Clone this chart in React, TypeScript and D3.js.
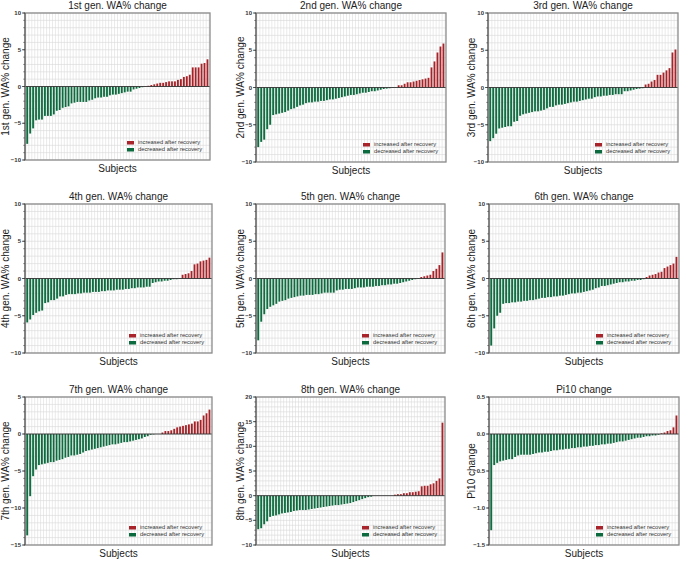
import React from 'react';
import * as d3 from 'd3';

const gen1 = [-7.8, -6.4, -5.7, -4.6, -4.5, -4.5, -4.0, -4.0, -4.0, -3.8, -3.3, -3.2, -2.9, -2.8, -2.7, -2.3, -2.2, -2.1, -2.1, -2.1, -2.1, -1.9, -1.8, -1.6, -1.5, -1.5, -1.4, -1.4, -1.2, -1.1, -1.1, -1.0, -0.9, -0.8, -0.7, -0.7, -0.4, -0.3, -0.2, -0.1, 0.05, 0.1, 0.2, 0.3, 0.4, 0.5, 0.5, 0.6, 0.7, 0.7, 0.7, 0.9, 1.0, 1.3, 1.4, 1.6, 2.6, 2.6, 2.6, 3.1, 3.2, 3.7];
const gen2 = [-8.0, -7.3, -7.0, -5.6, -5.0, -3.7, -3.6, -3.5, -3.4, -3.3, -3.1, -2.9, -2.8, -2.6, -2.4, -2.3, -2.1, -2.0, -2.0, -1.9, -1.9, -1.8, -1.8, -1.7, -1.6, -1.6, -1.5, -1.4, -1.3, -1.2, -1.1, -1.0, -1.0, -0.9, -0.8, -0.7, -0.7, -0.6, -0.5, -0.5, -0.4, -0.3, -0.2, -0.15, -0.1, -0.05, -0.02, 0.3, 0.3, 0.5, 0.7, 0.7, 0.8, 0.9, 1.0, 1.1, 1.2, 1.3, 2.7, 3.5, 4.7, 5.5, 5.9];
const gen3 = [-7.2, -6.8, -6.2, -5.5, -5.4, -5.3, -5.2, -5.2, -4.6, -4.5, -3.8, -3.6, -3.5, -3.4, -3.3, -3.2, -3.2, -3.1, -3.0, -2.8, -2.6, -2.6, -2.4, -2.3, -2.3, -2.2, -2.1, -2.0, -1.9, -1.9, -1.8, -1.7, -1.6, -1.5, -1.5, -1.3, -1.2, -1.2, -1.1, -1.1, -1.0, -1.0, -0.9, -0.9, -0.9, -0.5, -0.5, -0.4, -0.3, -0.2, -0.15, -0.1, 0.4, 0.5, 0.8, 1.0, 1.7, 1.7, 2.0, 2.3, 2.6, 4.7, 5.1];
const gen4 = [-5.9, -5.5, -4.9, -4.6, -4.4, -4.3, -3.3, -3.2, -2.9, -2.9, -2.7, -2.4, -2.4, -2.2, -2.1, -2.1, -2.1, -2.0, -2.0, -1.9, -1.9, -1.9, -1.8, -1.8, -1.8, -1.7, -1.7, -1.6, -1.6, -1.6, -1.5, -1.5, -1.5, -1.4, -1.4, -1.3, -1.3, -1.2, -1.2, -1.2, -1.1, -1.1, -0.6, -0.5, -0.4, -0.4, -0.3, -0.3, -0.2, -0.1, -0.1, -0.05, 0.5, 0.6, 0.7, 1.0, 1.9, 2.0, 2.3, 2.4, 2.5, 2.8];
const gen5 = [-8.3, -5.8, -4.8, -4.1, -3.8, -3.6, -3.4, -3.1, -3.0, -2.9, -2.7, -2.6, -2.5, -2.4, -2.3, -2.3, -2.2, -2.2, -2.2, -2.1, -2.1, -2.0, -1.9, -1.9, -1.9, -1.9, -1.6, -1.5, -1.5, -1.4, -1.4, -1.4, -1.3, -1.2, -1.2, -1.2, -1.1, -1.1, -1.1, -1.0, -1.0, -0.9, -0.9, -0.8, -0.8, -0.7, -0.7, -0.6, -0.5, -0.4, -0.3, -0.2, -0.1, -0.05, 0.2, 0.3, 0.4, 0.5, 1.0, 1.3, 1.8, 3.5];
const gen6 = [-9.0, -6.7, -5.0, -4.6, -3.4, -3.3, -3.3, -3.2, -3.2, -3.1, -3.1, -3.0, -3.0, -2.9, -2.9, -2.8, -2.7, -2.6, -2.6, -2.5, -2.5, -2.4, -2.4, -2.3, -2.3, -2.2, -2.1, -2.0, -2.0, -1.9, -1.9, -1.8, -1.7, -1.6, -1.5, -1.3, -1.2, -1.0, -1.0, -0.9, -0.8, -0.7, -0.6, -0.5, -0.5, -0.4, -0.4, -0.3, -0.3, -0.2, -0.2, -0.1, 0.2, 0.4, 0.5, 0.6, 0.8, 0.9, 1.4, 1.6, 1.8, 2.0, 2.9];
const gen7 = [-13.7, -8.4, -5.7, -4.8, -4.2, -4.1, -4.0, -3.9, -3.8, -3.8, -3.6, -3.5, -3.4, -3.2, -3.1, -2.9, -2.9, -2.8, -2.7, -2.5, -2.3, -2.2, -2.1, -2.0, -1.9, -1.8, -1.7, -1.6, -1.5, -1.4, -1.4, -1.3, -1.2, -1.1, -1.1, -1.0, -0.9, -0.8, -0.7, -0.6, -0.4, -0.3, -0.1, -0.05, 0, 0, 0.2, 0.4, 0.4, 0.5, 0.7, 0.9, 1.0, 1.1, 1.2, 1.3, 1.4, 1.7, 1.7, 1.9, 2.5, 2.8, 3.3];
const gen8 = [-6.8, -6.6, -5.8, -5.2, -4.3, -4.1, -4.0, -3.8, -3.6, -3.5, -3.4, -3.3, -3.1, -3.0, -2.9, -2.9, -2.9, -2.8, -2.7, -2.6, -2.5, -2.4, -2.3, -2.2, -2.1, -2.0, -1.9, -1.9, -1.8, -1.7, -1.6, -1.5, -1.3, -1.1, -0.9, -0.7, -0.5, -0.3, -0.2, 0, 0, 0, 0, 0, 0, 0, 0.2, 0.3, 0.3, 0.5, 0.5, 0.7, 0.7, 0.8, 0.9, 1.9, 2.0, 2.0, 2.3, 2.5, 3.0, 3.5, 14.8];
const pi10 = [-1.3, -0.42, -0.39, -0.37, -0.36, -0.35, -0.34, -0.34, -0.31, -0.29, -0.28, -0.28, -0.28, -0.28, -0.27, -0.26, -0.25, -0.25, -0.24, -0.24, -0.23, -0.22, -0.22, -0.21, -0.21, -0.20, -0.20, -0.19, -0.19, -0.18, -0.18, -0.17, -0.17, -0.16, -0.16, -0.15, -0.15, -0.14, -0.14, -0.13, -0.13, -0.12, -0.11, -0.10, -0.10, -0.09, -0.08, -0.07, -0.06, -0.05, -0.05, -0.04, -0.03, -0.03, -0.02, -0.02, -0.01, 0.01, 0.02, 0.04, 0.05, 0.09, 0.25];

const seriesList = [gen1, gen2, gen3, gen4, gen5, gen6, gen7, gen8, pi10];
const titles = ['1st gen. WA% change', '2nd gen. WA% change', '3rd gen. WA% change', '4th gen. WA% change', '5th gen. WA% change', '6th gen. WA% change', '7th gen. WA% change', '8th gen. WA% change', 'Pi10 change'];
const yLabels = ['1st gen. WA% change', '2nd gen. WA% change', '3rd gen. WA% change', '4th gen. WA% change', '5th gen. WA% change', '6th gen. WA% change', '7th gen. WA% change', '8th gen. WA% change', 'Pi10 change'];
const yDomains: [number, number][] = [[-10, 10], [-10, 10], [-10, 10], [-10, 10], [-10, 10], [-10, 10], [-15, 5], [-10, 20], [-1.5, 0.5]];
const majorSteps = [5, 5, 5, 5, 5, 5, 5, 5, 0.5];
const minorSteps = [1, 1, 1, 1, 1, 1, 1, 1, 0.1];
const legendLabels = ['increased after recovery', 'decreased after recovery'];
const xLabel = 'Subjects';

const boxes = [
  { l: 25, r: 210, t: 13, b: 160, lab: 20 },
  { l: 256, r: 446, t: 13, b: 162, lab: 16 },
  { l: 488, r: 678, t: 13, b: 162, lab: 17 },
  { l: 25, r: 212, t: 204, b: 353, lab: 20 },
  { l: 256, r: 445, t: 204, b: 353, lab: 16 },
  { l: 489, r: 679, t: 204, b: 353, lab: 18 },
  { l: 25, r: 212, t: 397, b: 545, lab: 20 },
  { l: 256, r: 445, t: 397, b: 545, lab: 16 },
  { l: 489, r: 679, t: 397, b: 545, lab: 18 },
];

const FONT = "'Liberation Sans', Arial, Helvetica, sans-serif";

function Panel({ idx }: { idx: number }) {
  const data = seriesList[idx];
  const bx = boxes[idx];
  const [d0, d1] = yDomains[idx];
  const x = d3.scaleBand<number>().domain(d3.range(data.length)).range([bx.l + 1, bx.r - 1]).paddingInner(0.28).paddingOuter(0.1);
  const y = d3.scaleLinear().domain([d0, d1]).range([bx.b, bx.t]);
  const minorN = Math.round((d1 - d0) / minorSteps[idx]);
  const minorVals = d3.range(minorN + 1).map(i => d0 + i * minorSteps[idx]);
  const majorN = Math.round((d1 - d0) / majorSteps[idx]);
  const majorVals = d3.range(majorN + 1).map(i => d0 + i * majorSteps[idx]);
  const fmt = idx === 8 ? d3.format('.1f') : d3.format('d');
  const step = x.step();
  const cx = (bx.l + bx.r) / 2;
  const cy = (bx.t + bx.b) / 2;
  return (
    <g>
      <rect x={bx.l} y={bx.t} width={bx.r - bx.l} height={bx.b - bx.t} fill="#fff" />
      {d3.range(data.length + 1).map(i => (
        <line key={'vg' + i} x1={bx.l + 1 + x.paddingOuter() * step + i * step - step * 0.14} x2={bx.l + 1 + x.paddingOuter() * step + i * step - step * 0.14} y1={bx.t} y2={bx.b} stroke="#dcdcdc" strokeWidth={0.6} />
      ))}
      {minorVals.map((v, i) => (
        <line key={'hg' + i} x1={bx.l} x2={bx.r} y1={y(v)} y2={y(v)} stroke="#d6d6d6" strokeWidth={0.6} />
      ))}
      {data.map((v, i) => {
        const y0 = y(0);
        const yv = y(v);
        return (
          <rect key={'b' + i} x={x(i)} width={x.bandwidth()} y={Math.min(y0, yv)} height={Math.abs(yv - y0)} fill={v >= 0 ? 'url(#gRed)' : 'url(#gGreen)'} />
        );
      })}
      <line x1={bx.l} x2={bx.r} y1={y(0)} y2={y(0)} stroke="#333" strokeWidth={0.9} />
      <rect x={bx.l} y={bx.t} width={bx.r - bx.l} height={bx.b - bx.t} fill="none" stroke="#8c8c8c" strokeWidth={1.3} />
      <line x1={bx.l} x2={bx.l} y1={bx.t} y2={bx.b} stroke="#555" strokeWidth={1} />
      {minorVals.map((v, i) => (
        <line key={'mt' + i} x1={bx.l - 1.8} x2={bx.l} y1={y(v)} y2={y(v)} stroke="#444" strokeWidth={0.6} />
      ))}
      {majorVals.map((v, i) => (
        <g key={'Mt' + i}>
          <line x1={bx.l - 3} x2={bx.l} y1={y(v)} y2={y(v)} stroke="#333" strokeWidth={0.8} />
          <text x={bx.l - 4} y={y(v)} dy="0.35em" textAnchor="end" fontSize={6} fontWeight="bold" fill="#333" fontFamily={FONT}>{fmt(v)}</text>
        </g>
      ))}
      <text x={cx} y={bx.t - 4} textAnchor="middle" fontSize={10} fill="#222" fontFamily={FONT}>{titles[idx]}</text>
      <text x={cx} y={bx.b + 12} textAnchor="middle" fontSize={10} fill="#222" fontFamily={FONT}>{xLabel}</text>
      <text transform={`translate(${bx.l - bx.lab + 4},${cy}) rotate(-90)`} textAnchor="middle" fontSize={10} fill="#222" fontFamily={FONT}>{yLabels[idx]}</text>
      <g transform={`translate(${bx.r - 83},${bx.b - 19})`}>
        <rect x={0} y={0} width={7} height={3.5} fill="#a8232a" />
        <text x={11} y={3.4} fontSize={5.8} fill="#333" fontFamily={FONT}>{legendLabels[0]}</text>
        <rect x={0} y={7} width={7} height={3.5} fill="#0c6b3e" />
        <text x={11} y={10.4} fontSize={5.8} fill="#333" fontFamily={FONT}>{legendLabels[1]}</text>
      </g>
    </g>
  );
}

export default function App() {
  return (
    <svg width={680} height={563} style={{ position: 'absolute', left: 0, top: 0, background: '#fff' }}>
      <defs>
        <linearGradient id="gGreen" x1="0" x2="1" y1="0" y2="0">
          <stop offset="0" stopColor="#0a633a" />
          <stop offset="0.6" stopColor="#0f6e42" />
          <stop offset="1" stopColor="#9cc8b0" />
        </linearGradient>
        <linearGradient id="gRed" x1="0" x2="1" y1="0" y2="0">
          <stop offset="0" stopColor="#9e1b22" />
          <stop offset="0.6" stopColor="#a8262c" />
          <stop offset="1" stopColor="#e2a3a3" />
        </linearGradient>
      </defs>
      {seriesList.map((_, i) => <Panel key={i} idx={i} />)}
    </svg>
  );
}
